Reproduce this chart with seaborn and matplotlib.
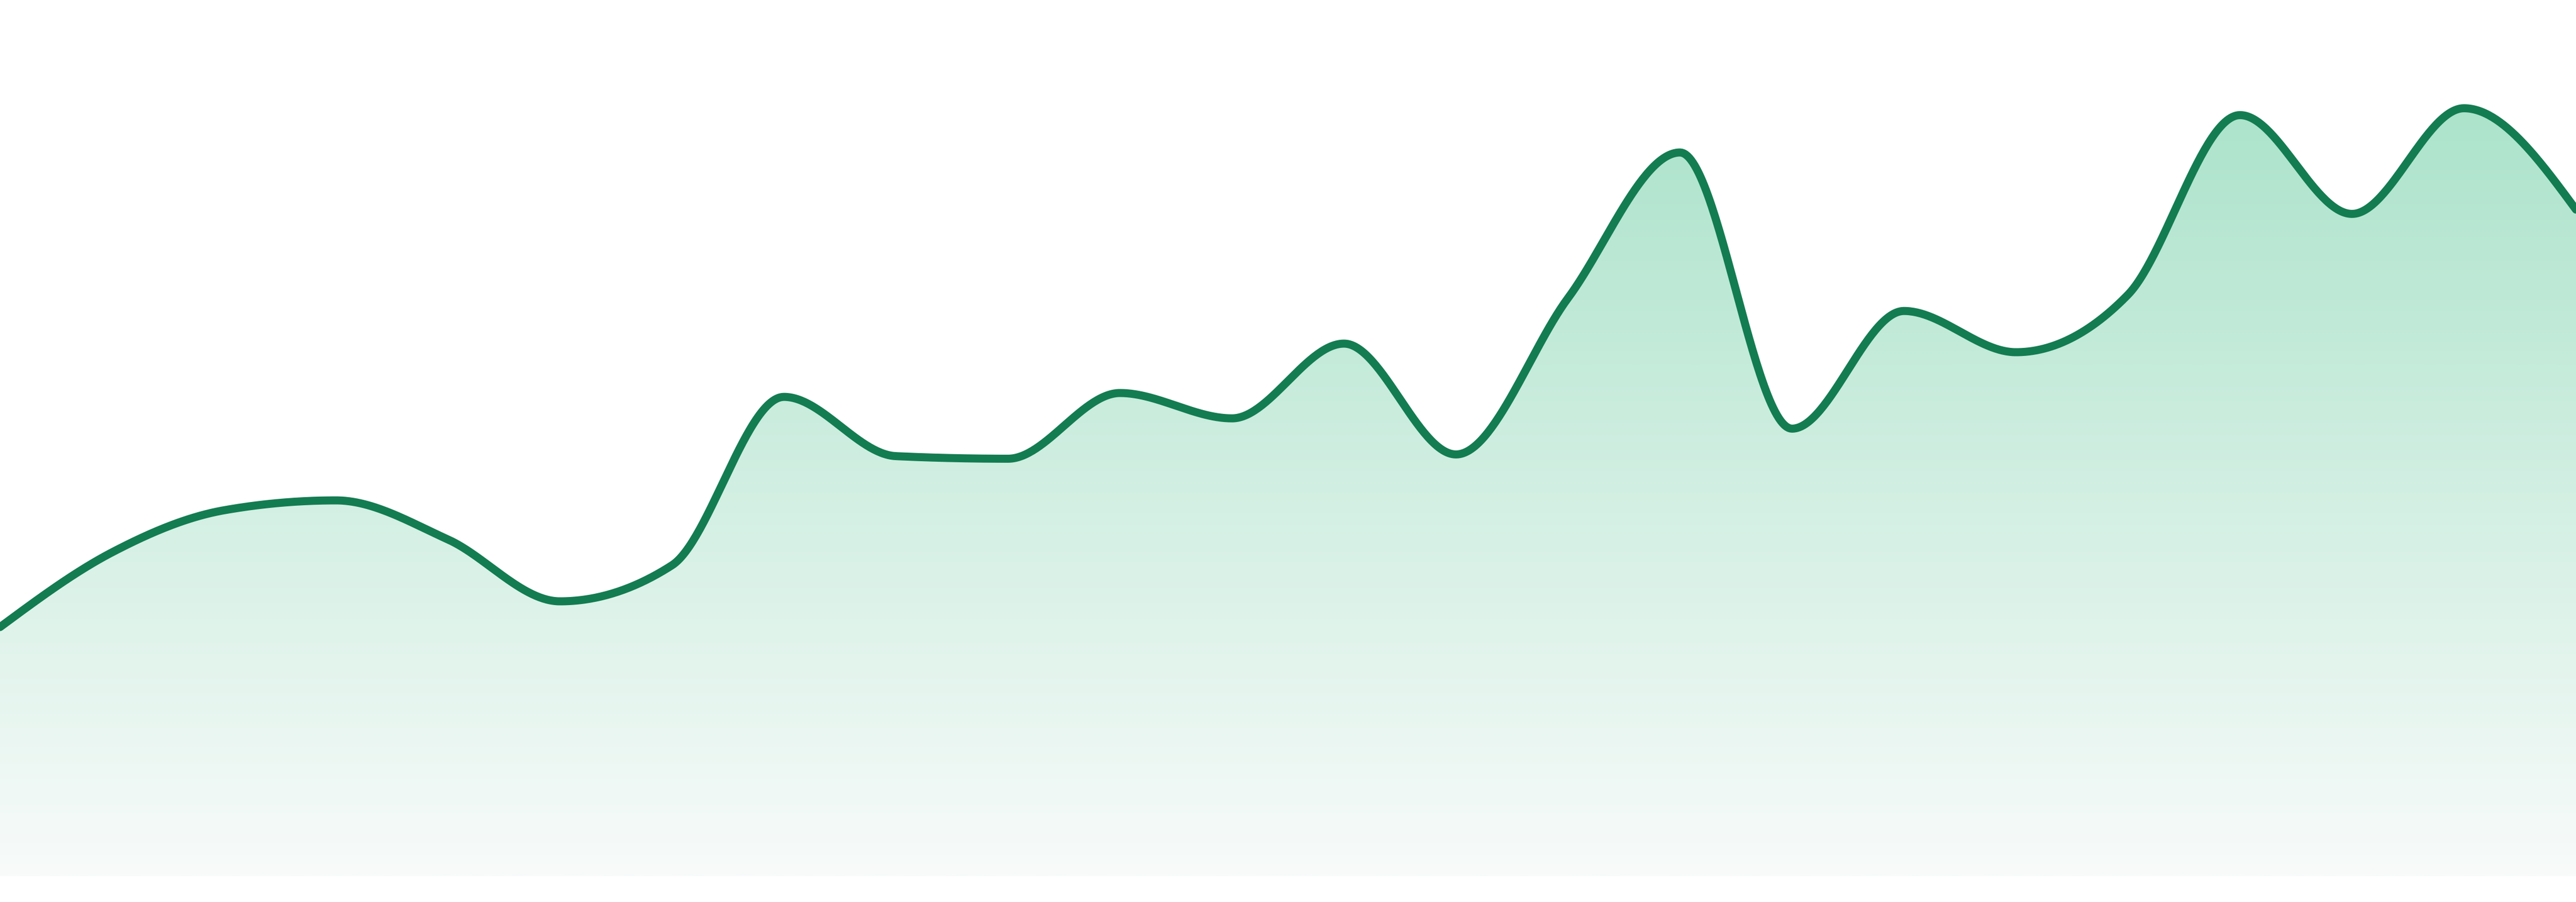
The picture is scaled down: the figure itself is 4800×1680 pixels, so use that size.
import numpy as np
import pandas as pd
import matplotlib
matplotlib.use("Agg")
import matplotlib.pyplot as plt
from matplotlib.colors import LinearSegmentedColormap
import seaborn as sns

# values (one per step, evenly spaced)
steps = list(range(24))
values = [29.0, 37.7, 42.6, 43.75, 39.2, 32.0, 36.2, 55.8, 48.9, 48.6,
          56.25, 53.3, 62.0, 49.1, 67.3, 84.25, 52.1, 65.8, 61.0, 67.7,
          88.6, 77.1, 89.4, 77.6]

line_color = "#137c51"
fill_top = "#ace3cb"
fill_bottom = "#f8fbfa"


def monotone_x(x, y, n=60):
    # same smoothing as d3 curveMonotoneX
    x = np.asarray(x, float)
    y = np.asarray(y, float)
    h = np.diff(x)
    s = np.diff(y) / h
    t = np.zeros_like(y)
    for i in range(1, len(y) - 1):
        s0, s1 = s[i - 1], s[i]
        p = (s0 * h[i] + s1 * h[i - 1]) / (h[i - 1] + h[i])
        t[i] = (np.sign(s0) + np.sign(s1)) * min(abs(s0), abs(s1), 0.5 * abs(p))
    t[0] = (3 * s[0] - t[1]) / 2
    t[-1] = (3 * s[-1] - t[-2]) / 2
    xs, ys = [], []
    for i in range(len(y) - 1):
        u = np.linspace(0, 1, n, endpoint=(i == len(y) - 2))
        h00 = 2 * u**3 - 3 * u**2 + 1
        h10 = u**3 - 2 * u**2 + u
        h01 = -2 * u**3 + 3 * u**2
        h11 = u**3 - u**2
        xs.append(x[i] + u * h[i])
        ys.append(h00 * y[i] + h10 * h[i] * t[i] + h01 * y[i + 1] + h11 * h[i] * t[i + 1])
    return np.concatenate(xs), np.concatenate(ys)


xs, ys = monotone_x(steps, values)
curve = pd.DataFrame({"step": xs, "value": ys})

sns.set_style("white")
fig = plt.figure(figsize=(16, 5.6), dpi=300)
ax = fig.add_axes([0, 0, 1, 1])

# gradient fill under the curve
top = max(values)
cmap = LinearSegmentedColormap.from_list("fade", [fill_bottom, fill_top])
grad = np.linspace(0, 1, 512).reshape(-1, 1)
img = ax.imshow(grad, cmap=cmap, aspect="auto", origin="lower",
                extent=(steps[0], steps[-1], 0, top), zorder=1)
poly = ax.fill_between(curve["step"], curve["value"], 0, facecolor="none",
                       edgecolor="none")
clip = poly.get_paths()[0]
img.set_clip_path(clip, transform=ax.transData)

sns.lineplot(data=curve, x="step", y="value", color=line_color, linewidth=3.6,
             ax=ax, zorder=3, solid_capstyle="round", solid_joinstyle="round")

ax.set_xlim(steps[0], steps[-1])
ax.set_ylim(-3, 102)
ax.axis("off")

fig.savefig("out.png", dpi=300, facecolor="white")
